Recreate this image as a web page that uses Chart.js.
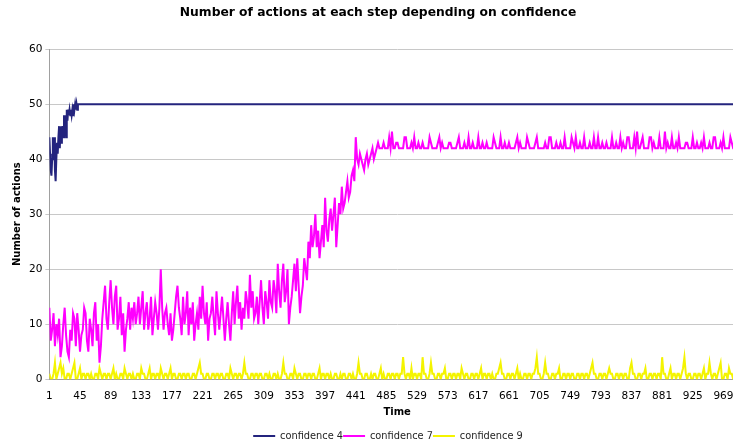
<!DOCTYPE html>
<html>
<head>
<meta charset="utf-8">
<script src="https://cdn.jsdelivr.net/npm/chart.js@4"></script>
<style>
  html, body { margin: 0; padding: 0; background: #ffffff; overflow: hidden; }
  #wrap { width: 748px; height: 451px; }
</style>
</head>
<body>
<div id="wrap"><canvas id="c" width="748" height="451"></canvas></div>
<script>
// ---- Data ----
const xTickLabels = [1,45,89,133,177,221,265,309,353,397,441,485,529,573,617,661,705,749,793,837,881,925,969];
const yTickValues = [0,10,20,30,40,50,60];

// confidence 4: steps 1..44 individually, then flat at 50 until step 1000
const conf4Early = [44,41,38,37,40,44,40,44,38,36,40,43,41,44,46,42,46,43,45,46,44,48,45,48,44,49,47,49,48,49,48,49,48,49,48,50,49,50,49,50,49,50,50,50];
const conf4LateSteps = [1000];
const conf4LateValues = [50];

// confidence 7 and 9: one reading every 2 time steps (steps 1,3,5,...)
const sampleEvery = 2;
const conf7 = [
  13,7,9,12,6,10,8,11,4,6,10,13,8,5,4,9,7,12,11,6,
  12,9,5,8,9,13,12,7,5,11,9,6,12,14,7,10,3,6,11,14,
  17,11,9,14,18,13,10,15,17,9,11,15,8,12,5,9,11,14,9,13,
  11,14,10,12,15,10,13,16,9,12,14,9,11,15,8,11,14,12,9,13,
  20,13,9,12,13,10,8,12,7,9,12,15,17,13,11,8,15,10,12,16,
  8,13,10,14,7,10,12,9,15,11,17,12,10,14,7,11,12,15,11,8,
  16,12,9,12,15,11,7,11,14,10,7,12,16,10,14,17,11,14,9,13,
  11,16,14,11,19,13,16,11,12,15,10,14,18,13,10,16,14,11,18,14,
  13,18,16,12,21,16,13,18,21,14,16,20,10,13,15,18,21,16,22,17,
  12,15,17,22,20,18,25,22,28,24,26,30,24,27,22,25,28,24,33,27,
  25,29,31,27,30,33,24,28,32,30,35,31,32,34,36,33,34,37,38,36,
  44,40,39,41,40,39,38,40,41,39,40,41,42,40,41,42,43,42,42,42,
  43,42,42,42,44,42,45,42,42,43,43,42,42,42,42,44,44,42,42,42,
  43,42,44,42,42,43,42,42,43,42,42,42,42,44,43,42,42,42,42,43,
  44,42,43,42,42,42,42,43,43,42,42,42,42,43,44,42,42,42,43,42,
  42,44,42,42,43,42,42,42,44,42,42,43,42,42,43,42,42,42,42,44,
  43,42,42,42,44,42,42,43,42,42,43,42,42,42,42,43,44,42,43,42,
  42,42,42,44,43,42,42,42,42,43,44,42,42,42,42,42,43,42,42,44,
  44,42,42,42,43,42,42,43,42,42,44,42,42,42,42,44,43,42,44,42,
  42,43,42,42,44,42,42,42,43,42,42,44,42,42,44,42,42,43,42,42,
  43,42,42,42,44,42,42,43,42,42,44,42,43,42,42,44,44,42,42,42,
  44,42,45,42,42,43,44,42,42,42,42,44,44,42,43,42,42,42,44,42,
  42,42,45,42,43,42,42,44,42,42,43,42,44,42,42,42,42,43,43,42,
  42,42,44,42,42,43,42,42,43,42,44,42,42,42,43,42,42,44,44,42,
  42,42,43,42,44,42,42,42,42,44,43,42,42,42,44,42,42,43,43,42
];
const conf9 = [
  1,0,0,1,3,0,1,2,3,1,2,0,0,1,1,0,1,2,3,0,
  0,1,2,0,1,1,0,1,1,0,1,0,0,1,1,0,2,1,0,1,
  1,0,1,1,0,1,2,0,1,0,0,1,1,0,2,1,0,1,1,0,
  1,0,0,1,1,0,2,1,1,0,0,1,2,0,1,1,0,1,1,0,
  2,1,0,1,1,0,1,2,0,1,1,0,0,1,1,0,1,1,0,1,
  1,0,0,1,1,0,1,2,3,1,1,0,0,1,1,0,0,1,1,0,
  1,1,0,1,1,0,0,1,1,0,2,1,0,1,1,0,1,1,0,1,
  3,1,1,0,0,1,1,0,1,1,0,1,1,0,0,1,1,0,1,0,
  0,1,1,0,1,0,0,1,3,1,1,0,0,1,1,0,2,1,0,1,
  1,0,0,1,1,0,1,1,0,1,1,0,0,1,2,0,1,1,0,1,
  1,0,1,0,0,1,1,0,0,1,0,1,1,0,0,1,1,0,1,0,
  0,1,3,1,1,0,0,1,1,0,0,1,0,1,1,0,0,1,2,0,
  1,0,0,1,1,0,1,1,0,1,1,0,1,1,4,1,0,1,1,0,
  2,0,1,1,0,1,1,0,4,1,1,0,0,1,3,1,1,0,0,1,
  1,0,1,1,2,0,0,1,1,0,1,1,0,1,1,0,2,1,0,1,
  1,0,0,1,1,0,1,1,0,1,2,0,1,1,0,1,1,0,1,0,
  0,1,1,2,3,1,1,0,0,1,1,0,1,1,0,1,2,0,1,0,
  0,1,1,0,1,1,0,1,1,2,4,1,1,0,0,1,3,1,1,0,
  0,1,1,0,1,1,2,0,0,1,1,0,1,1,0,1,1,0,0,1,
  1,0,1,1,0,1,1,0,1,2,3,1,1,0,0,1,1,0,1,1,
  0,1,2,1,1,0,0,1,1,0,1,1,0,1,1,0,0,2,3,1,
  1,0,0,1,1,0,1,1,2,0,0,1,1,0,1,1,0,1,1,0,
  4,1,1,0,0,1,2,0,1,1,0,1,1,0,1,2,4,1,0,1,
  1,0,0,1,1,0,1,1,0,1,2,0,1,1,3,1,0,1,1,0,
  1,2,3,0,0,1,1,0,2,1,1,0,0,1,1,0,1,1,0,1
];
const seriesNames = ['confidence 4','confidence 7','confidence 9'];

// ---- Build point lists ----
const conf4Points = conf4Early.map((v, i) => ({x: i + 1, y: v}))
  .concat(conf4LateSteps.map((s, i) => ({x: s, y: conf4LateValues[i]})));
const conf7Points = conf7.map((v, i) => ({x: 1 + i * sampleEvery, y: v}));
const conf9Points = conf9.map((v, i) => ({x: 1 + i * sampleEvery, y: v}));

const FONT = 'DejaVu Sans, Verdana, sans-serif';

const legendShift = {
  id: 'legendShift',
  afterLayout(chart) {
    if (chart.legend) { chart.legend.left += 10; chart.legend.right += 10; }
  }
};

new Chart(document.getElementById('c'), {
  type: 'line',
  plugins: [legendShift],
  data: {
    datasets: [
      {label: seriesNames[0], data: conf4Points, borderColor: '#24247e', backgroundColor: '#24247e', borderWidth: 2},
      {label: seriesNames[1], data: conf7Points, borderColor: '#ff00ff', backgroundColor: '#ff00ff', borderWidth: 2},
      {label: seriesNames[2], data: conf9Points, borderColor: '#f4f400', backgroundColor: '#f4f400', borderWidth: 2}
    ]
  },
  options: {
    responsive: false,
    animation: false,
    elements: { point: { radius: 0 }, line: { tension: 0 } },
    layout: { padding: { left: 11, right: 3, top: 0, bottom: 0 } },
    plugins: {
      title: {
        display: true,
        text: 'Number of actions at each step depending on confidence',
        color: '#000',
        font: { family: FONT, size: 12.3, weight: 'bold' },
        padding: { top: 5, bottom: 29.4 }
      },
      legend: {
        position: 'bottom',
        labels: {
          usePointStyle: true,
          pointStyle: 'line',
          pointStyleWidth: 22,
          boxHeight: 8,
          color: '#222',
          padding: 0,
          font: { family: FONT, size: 9.8 }
        }
      },
      tooltip: { enabled: false }
    },
    scales: {
      x: {
        type: 'linear',
        min: 1,
        max: 1000,
        afterBuildTicks: (axis) => { axis.ticks = xTickLabels.map(v => ({value: v})); },
        ticks: {
          autoSkip: false, maxRotation: 0, minRotation: 0,
          color: '#000', padding: 2,
          font: { family: FONT, size: 10.5 },
          callback: (v) => String(v)
        },
        grid: { display: true, drawOnChartArea: false, drawTicks: true, tickLength: 8.7, tickColor: 'rgba(0,0,0,0)' },
        border: { display: true, color: '#a0a0a0', width: 1 },
        title: {
          display: true, text: 'Time', color: '#000',
          font: { family: FONT, size: 10, weight: 'bold' },
          padding: { top: 1.7, bottom: 13 }
        }
      },
      y: {
        type: 'linear',
        min: 0,
        max: 60,
        afterBuildTicks: (axis) => { axis.ticks = yTickValues.map(v => ({value: v})); },
        ticks: {
          color: '#000', padding: 3,
          font: { family: FONT, size: 10.5 }
        },
        grid: { color: '#c8c8c8', lineWidth: 1, drawTicks: true, tickLength: 4 },
        border: { display: true, color: '#a0a0a0', width: 1 },
        title: {
          display: true, text: 'Number of actions', color: '#000',
          font: { family: FONT, size: 10, weight: 'bold' },
          padding: { top: 0, bottom: 3 }
        }
      }
    }
  }
});
</script>
</body>
</html>
